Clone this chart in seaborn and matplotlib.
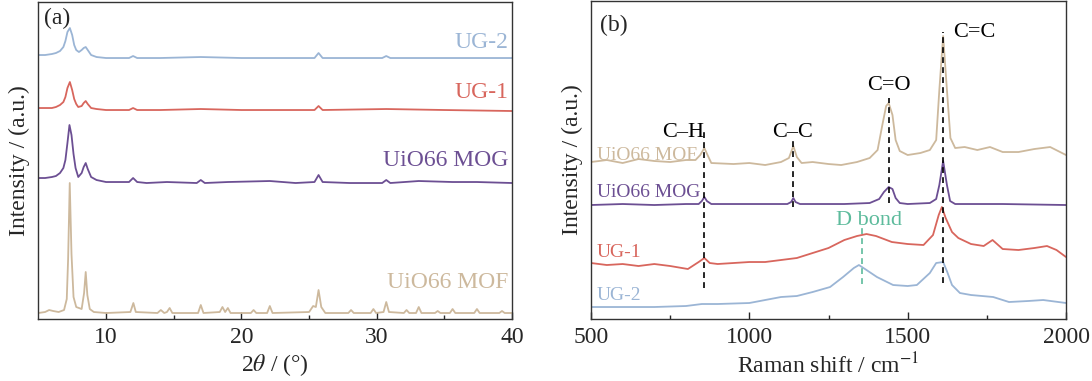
import matplotlib
matplotlib.use("Agg")
import matplotlib.pyplot as plt
import seaborn as sns

# ---------------- XRD (panel a), intensity in arbitrary units ----------------
mof_x = [5.0, 5.5, 5.8, 6.1, 6.5, 6.9, 7.1, 7.2, 7.32, 7.45, 7.6, 7.8, 8.2, 8.38, 8.5, 8.62, 8.8, 9.1, 10.0,
         11.8, 12.02, 12.2, 13.8, 14.05, 14.3, 14.5, 14.7, 14.9, 16.8, 17.0, 17.2, 18.4, 18.6, 18.8, 19.0, 19.2,
         20.7, 20.9, 21.1, 21.9, 22.1, 22.3, 25.0, 25.3, 25.5, 25.7, 25.9, 26.2, 27.9, 28.1, 28.3, 29.55, 29.75,
         29.95, 30.5, 30.7, 30.9, 32.0, 32.2, 32.4, 32.9, 33.1, 33.3, 34.3, 34.5, 34.7, 35.4, 35.6, 35.8, 37.2,
         37.4, 37.6, 39.05, 39.25, 39.45, 40.0]
mof_y = [6, 7, 9, 8, 7, 9, 20, 60, 136, 65, 22, 12, 10, 26, 47, 24, 10, 7, 6,
         7, 16, 7, 6, 9, 6, 7, 11, 6, 6, 14, 6, 7, 12, 7, 11, 6,
         6, 9, 6, 6, 13, 6, 7, 13, 12, 29, 12, 6, 6, 9, 6, 6, 10,
         6, 7, 17, 7, 6, 9, 6, 6, 12, 6, 6, 8, 6, 6, 10, 6, 6,
         10, 6, 6, 8, 6, 6]

mog_x = [5.0, 5.5, 6.0, 6.3, 6.6, 6.85, 7.0, 7.15, 7.3, 7.45, 7.6, 7.75, 7.95, 8.2, 8.35, 8.5, 8.65, 8.9, 9.3, 10.0,
         11.0, 11.7, 12.0, 12.3, 13.0, 14.5, 16.7, 17.0, 17.3, 19.0, 22.1, 24.0, 25.4, 25.7, 26.0, 28.0, 30.4, 30.7,
         31.0, 33.1, 35.6, 37.4, 40.0]
mog_y = [141, 141, 142, 143, 146, 151, 159, 176, 194, 184, 165, 151, 142, 146, 152, 156, 150, 142, 139, 137,
         137, 137, 141, 137, 136, 137, 136, 139, 136, 137, 138, 136, 137, 144, 137, 136, 136, 139,
         136, 138, 137, 137, 136]

ug1_x = [5.0, 5.5, 6.0, 6.3, 6.6, 6.85, 7.0, 7.15, 7.33, 7.5, 7.65, 7.8, 7.95, 8.2, 8.35, 8.5, 8.65, 8.9, 9.3, 10.0,
         11.7, 12.0, 12.3, 14.0, 17.0, 20.0, 25.4, 25.7, 26.0, 30.7, 35.0, 40.0]
ug1_y = [211, 211, 211, 212, 214, 217, 222, 231, 237, 229, 220, 215, 212, 213, 216, 218, 215, 211, 210, 209,
         209, 211, 209, 209, 210, 209, 209, 213, 209, 210, 209, 208]

ug2_x = [5.0, 5.5, 6.0, 6.3, 6.6, 6.85, 7.0, 7.15, 7.33, 7.5, 7.65, 7.8, 8.0, 8.2, 8.35, 8.5, 8.65, 8.9, 9.3, 10.0,
         11.7, 12.0, 12.3, 14.0, 17.0, 20.0, 25.4, 25.7, 26.0, 30.4, 30.7, 31.0, 35.0, 40.0]
ug2_y = [264, 264, 265, 266, 268, 272, 278, 287, 291, 284, 274, 269, 267, 269, 271, 272, 269, 264, 262, 261,
         261, 263, 261, 261, 262, 261, 261, 266, 261, 261, 263, 261, 261, 261]

# ---------------- Raman (panel b) ----------------
mof_r_x = [500, 550, 600, 650, 700, 750, 800, 830, 845, 858, 868, 880, 950, 1000, 1050, 1100, 1125, 1139, 1150, 1165,
           1200, 1250, 1290, 1340, 1380, 1405, 1420, 1432, 1440, 1452, 1462, 1475, 1500, 1540, 1570, 1590, 1600,
           1612, 1624, 1635, 1650, 1680, 1720, 1760, 1800, 1850, 1900, 1950, 2000]
mof_r_y = [157, 159, 156, 160, 158, 157, 159, 159, 164, 171, 164, 156, 155, 156, 154, 157, 161, 173, 162, 156,
           157, 155, 154, 157, 161, 169, 194, 213, 216, 204, 179, 168, 164, 166, 169, 179, 229,
           283, 229, 181, 171, 172, 169, 172, 167, 167, 170, 172, 164]

mog_r_x = [500, 600, 700, 800, 840, 850, 858, 866, 880, 1000, 1120, 1132, 1139, 1146, 1160, 1300, 1380, 1410, 1425,
           1440, 1452, 1462, 1475, 1500, 1570, 1590, 1600, 1612, 1624, 1634, 1650, 1800, 2000]
mog_r_y = [114, 115, 114, 115, 115, 118, 122, 118, 115, 115, 115, 117, 121, 117, 115, 115, 116, 120, 127,
           132, 130, 121, 116, 115, 116, 120, 134, 158, 134, 118, 115, 115, 114]

ug1_r_x = [500, 550, 600, 650, 700, 750, 806, 840, 858, 875, 900, 950, 1000, 1050, 1100, 1150, 1200, 1250, 1300,
           1340, 1370, 1400, 1450, 1500, 1550, 1580, 1598, 1608, 1620, 1640, 1660, 1700, 1740, 1768, 1800, 1850,
           1900, 1940, 1970, 2000]
ug1_r_y = [56, 54, 55, 53, 55, 53, 50, 57, 61, 56, 55, 56, 57, 57, 59, 61, 66, 71, 79,
           83, 85, 83, 77, 75, 74, 84, 104, 112, 101, 87, 81, 75, 73, 79, 70, 69,
           71, 73, 69, 62]

ug2_r_x = [500, 600, 700, 800, 850, 900, 1000, 1100, 1150, 1200, 1255, 1296, 1330, 1346, 1370, 1403, 1454, 1500,
           1529, 1570, 1590, 1612, 1625, 1640, 1665, 1700, 1770, 1820, 1880, 1928, 2000]
ug2_r_y = [12, 12, 12, 13, 15, 15, 16, 22, 23, 27, 32, 42, 51, 54, 49, 42, 34, 33,
           34, 46, 56, 57, 47, 34, 26, 24, 22, 17, 18, 19, 16]

samples = ["UiO66 MOF", "UiO66 MOG", "UG-1", "UG-2"]
colors = ["#cdb99d", "#6c4f93", "#d8665d", "#9bb5d5"]

bands = ["C\u2013H", "C\u2013C", "C=O", "C=C"]
band_pos = [858, 1139, 1440, 1612]
d_band_pos = 1355

sns.set_theme(style="ticks")
plt.rcParams["font.family"] = ["Liberation Serif", "DejaVu Serif"]
plt.rcParams["mathtext.fontset"] = "stix"
plt.rcParams["axes.edgecolor"] = "#333333"
plt.rcParams["axes.linewidth"] = 1.0

fig = plt.figure(figsize=(10.92, 3.81), dpi=100)
ax1 = fig.add_axes([0.0351, 0.1627, 0.4339, 0.832])
ax2 = fig.add_axes([0.5412, 0.1627, 0.435, 0.8346])

# panel (a)
xrd = [(mof_x, mof_y), (mog_x, mog_y), (ug1_x, ug1_y), (ug2_x, ug2_y)]
for (xs, ys), c in zip(xrd, colors):
    sns.lineplot(x=xs, y=ys, ax=ax1, color=c, lw=1.3)
label_y_a = [31, 153, 221, 271]
for name, c, yy in zip(samples, colors, label_y_a):
    ax1.text(39.7, yy, name, color=c, fontsize=17, ha="right", va="baseline")
ax1.set_xlim(5, 40)
ax1.set_ylim(0, 317)
ax1.set_xticks([10, 20, 30, 40])
ax1.set_xticks([15, 25, 35], minor=True)
ax1.set_yticks([])
ax1.set_xlabel(r"2$\theta$ / (°)", fontsize=17, labelpad=3)
ax1.set_ylabel("Intensity / (a.u.)", fontsize=17, labelpad=6)
ax1.text(0.012, 0.98, "(a)", transform=ax1.transAxes, fontsize=17, ha="left", va="top")

# panel (b)
raman = [(mof_r_x, mof_r_y), (mog_r_x, mog_r_y), (ug1_r_x, ug1_r_y), (ug2_r_x, ug2_r_y)]
for (xs, ys), c in zip(raman, colors):
    sns.lineplot(x=xs, y=ys, ax=ax2, color=c, lw=1.3)
label_y_b = [159, 122, 62, 19]
for name, c, yy in zip(samples, colors, label_y_b):
    ax2.text(519, yy, name, color=c, fontsize=14, ha="left", va="baseline")

dash_spans = [(31, 191), (112, 178), (116, 221), (36, 287)]
text_spots = [(792, 182), (1136, 182), (1440, 229), (1711, 282)]
for name, xp, (y0, y1), (tx, ty) in zip(bands, band_pos, dash_spans, text_spots):
    ax2.plot([xp, xp], [y0, y1], color="black", lw=1.2, ls=(0, (3.5, 2.5)))
    ax2.text(tx, ty, name, fontsize=16, ha="center", va="baseline", color="black")
ax2.plot([d_band_pos, d_band_pos], [35, 91], color="#5dbb9c", lw=1.2, ls=(0, (3.5, 2.5)))
ax2.text(1378, 94, "D bond", fontsize=16, ha="center", va="baseline", color="#5dbb9c")

ax2.set_xlim(500, 2000)
ax2.set_ylim(0, 318)
ax2.set_xticks([500, 1000, 1500, 2000])
ax2.set_xticks([750, 1250, 1750], minor=True)
ax2.set_yticks([])
ax2.set_xlabel("Raman shift / cm$^{-1}$", fontsize=17, labelpad=3)
ax2.set_ylabel("Intensity / (a.u.)", fontsize=17, labelpad=6)
ax2.text(0.02, 0.955, "(b)", transform=ax2.transAxes, fontsize=17, ha="left", va="top")

for ax in (ax1, ax2):
    ax.tick_params(axis="x", which="major", direction="in", length=5, width=1.0, labelsize=17, pad=6)
    ax.tick_params(axis="x", which="minor", direction="in", length=3, width=1.0)

plt.savefig("out.png", dpi=100)
